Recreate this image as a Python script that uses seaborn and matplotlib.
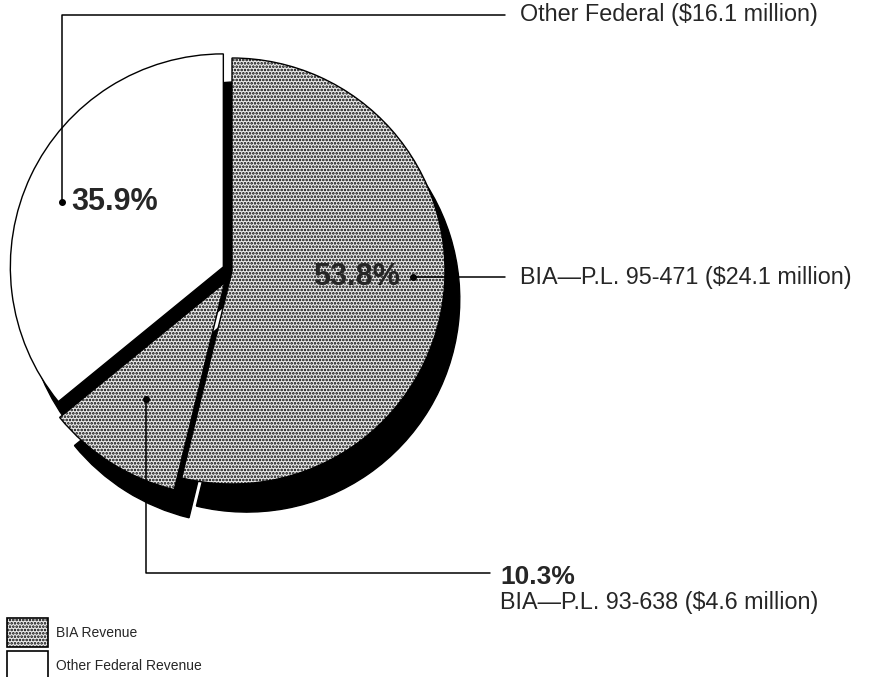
import numpy as np
import matplotlib
matplotlib.use("Agg")
import matplotlib.pyplot as plt
from matplotlib.patches import Patch
import seaborn as sns

# slices in drawing order (counter-clockwise from 12 o'clock)
shares = [35.9, 10.3, 53.8]
pct_labels = ["35.9%", "10.3%", "53.8%"]
desc_labels = ["Other Federal ($16.1 million)",
               "BIA\u2014P.L. 93-638 ($4.6 million)",
               "BIA\u2014P.L. 95-471 ($24.1 million)"]
is_bia = [False, True, True]
legend_labels = ["BIA Revenue", "Other Federal Revenue"]

sns.set_theme(style="white")
plt.rcParams["font.family"] = ["Liberation Sans", "DejaVu Sans"]
plt.rcParams["hatch.linewidth"] = 1.25

STIPPLE = "....."
BIA_FILL = "#ebebeb"
fig = plt.figure(figsize=(8.74, 6.77), dpi=100)
ax = fig.add_axes([0, 0, 1, 1])

wedges, _ = ax.pie(
    shares, startangle=90, counterclock=True,
    explode=[0.045, 0.065, 0.0],
    colors=[BIA_FILL if b else "white" for b in is_bia],
    hatch=[STIPPLE if b else "" for b in is_bia],
    wedgeprops=dict(edgecolor="black", linewidth=1.0),
    shadow=dict(ox=0.05, oy=-0.095, shade=1.0, alpha=1.0),
)

ax.set_xlim(-1.0892, 3.0141)
ax.set_ylim(-1.9061, 1.2723)
ax.set_aspect("equal")
ax.axis("off")

# leader dots: angle (deg) and fraction of radius inside each wedge
dot_angle = [158, 236, -2]
dot_frac = [0.815, 0.66, 0.85]
dots = []
for w, a, f in zip(wedges, dot_angle, dot_frac):
    cx, cy = w.center
    t = np.deg2rad(a)
    dots.append((cx + f * w.r * np.cos(t), cy + f * w.r * np.sin(t)))

lw = 1.1
y_top = 1.202
x_end = 1.282
x_txt = 1.352
y_low = -1.418
x_low_end = 1.21
x_low_txt = 1.258
pct_size = 22
desc_size = 16.8

# Other Federal
dx, dy = dots[0]
ax.plot([dx, dx, x_end], [dy, y_top, y_top], color="black", lw=lw)
ax.plot(dx, dy, "o", color="black", ms=4)
ax.text(dx + 0.04, dy, pct_labels[0], fontsize=pct_size, fontweight="bold", va="center", ha="left")
ax.text(x_txt, y_top, desc_labels[0], fontsize=desc_size, va="center", ha="left")

# BIA 95-471
dx, dy = dots[2]
ax.plot([dx, x_end], [dy, dy], color="black", lw=lw)
ax.plot(dx, dy, "o", color="black", ms=4)
ax.text(dx - 0.06, dy, pct_labels[2], fontsize=pct_size, fontweight="bold", va="center", ha="right")
ax.text(x_txt, dy, desc_labels[2], fontsize=desc_size, va="center", ha="left")

# BIA 93-638
dx, dy = dots[1]
ax.plot([dx, dx, x_low_end], [dy, y_low, y_low], color="black", lw=lw)
ax.plot(dx, dy, "o", color="black", ms=4)
ax.text(x_low_txt, y_low - 0.02, pct_labels[1], fontsize=19, fontweight="bold", va="center", ha="left")
ax.text(x_low_txt, y_low - 0.14, desc_labels[1], fontsize=desc_size, va="center", ha="left")

handles = [Patch(facecolor=BIA_FILL, edgecolor="black", hatch=STIPPLE, linewidth=1.2),
           Patch(facecolor="white", edgecolor="black", linewidth=1.2)]
fig.legend(handles, legend_labels, loc="lower left", bbox_to_anchor=(0.008, -0.004),
           frameon=False, fontsize=10, handlelength=2.95, handleheight=2.75,
           handletextpad=0.55, labelspacing=0.35, borderpad=0, borderaxespad=0)

fig.savefig("out.png", dpi=100, facecolor="white")
